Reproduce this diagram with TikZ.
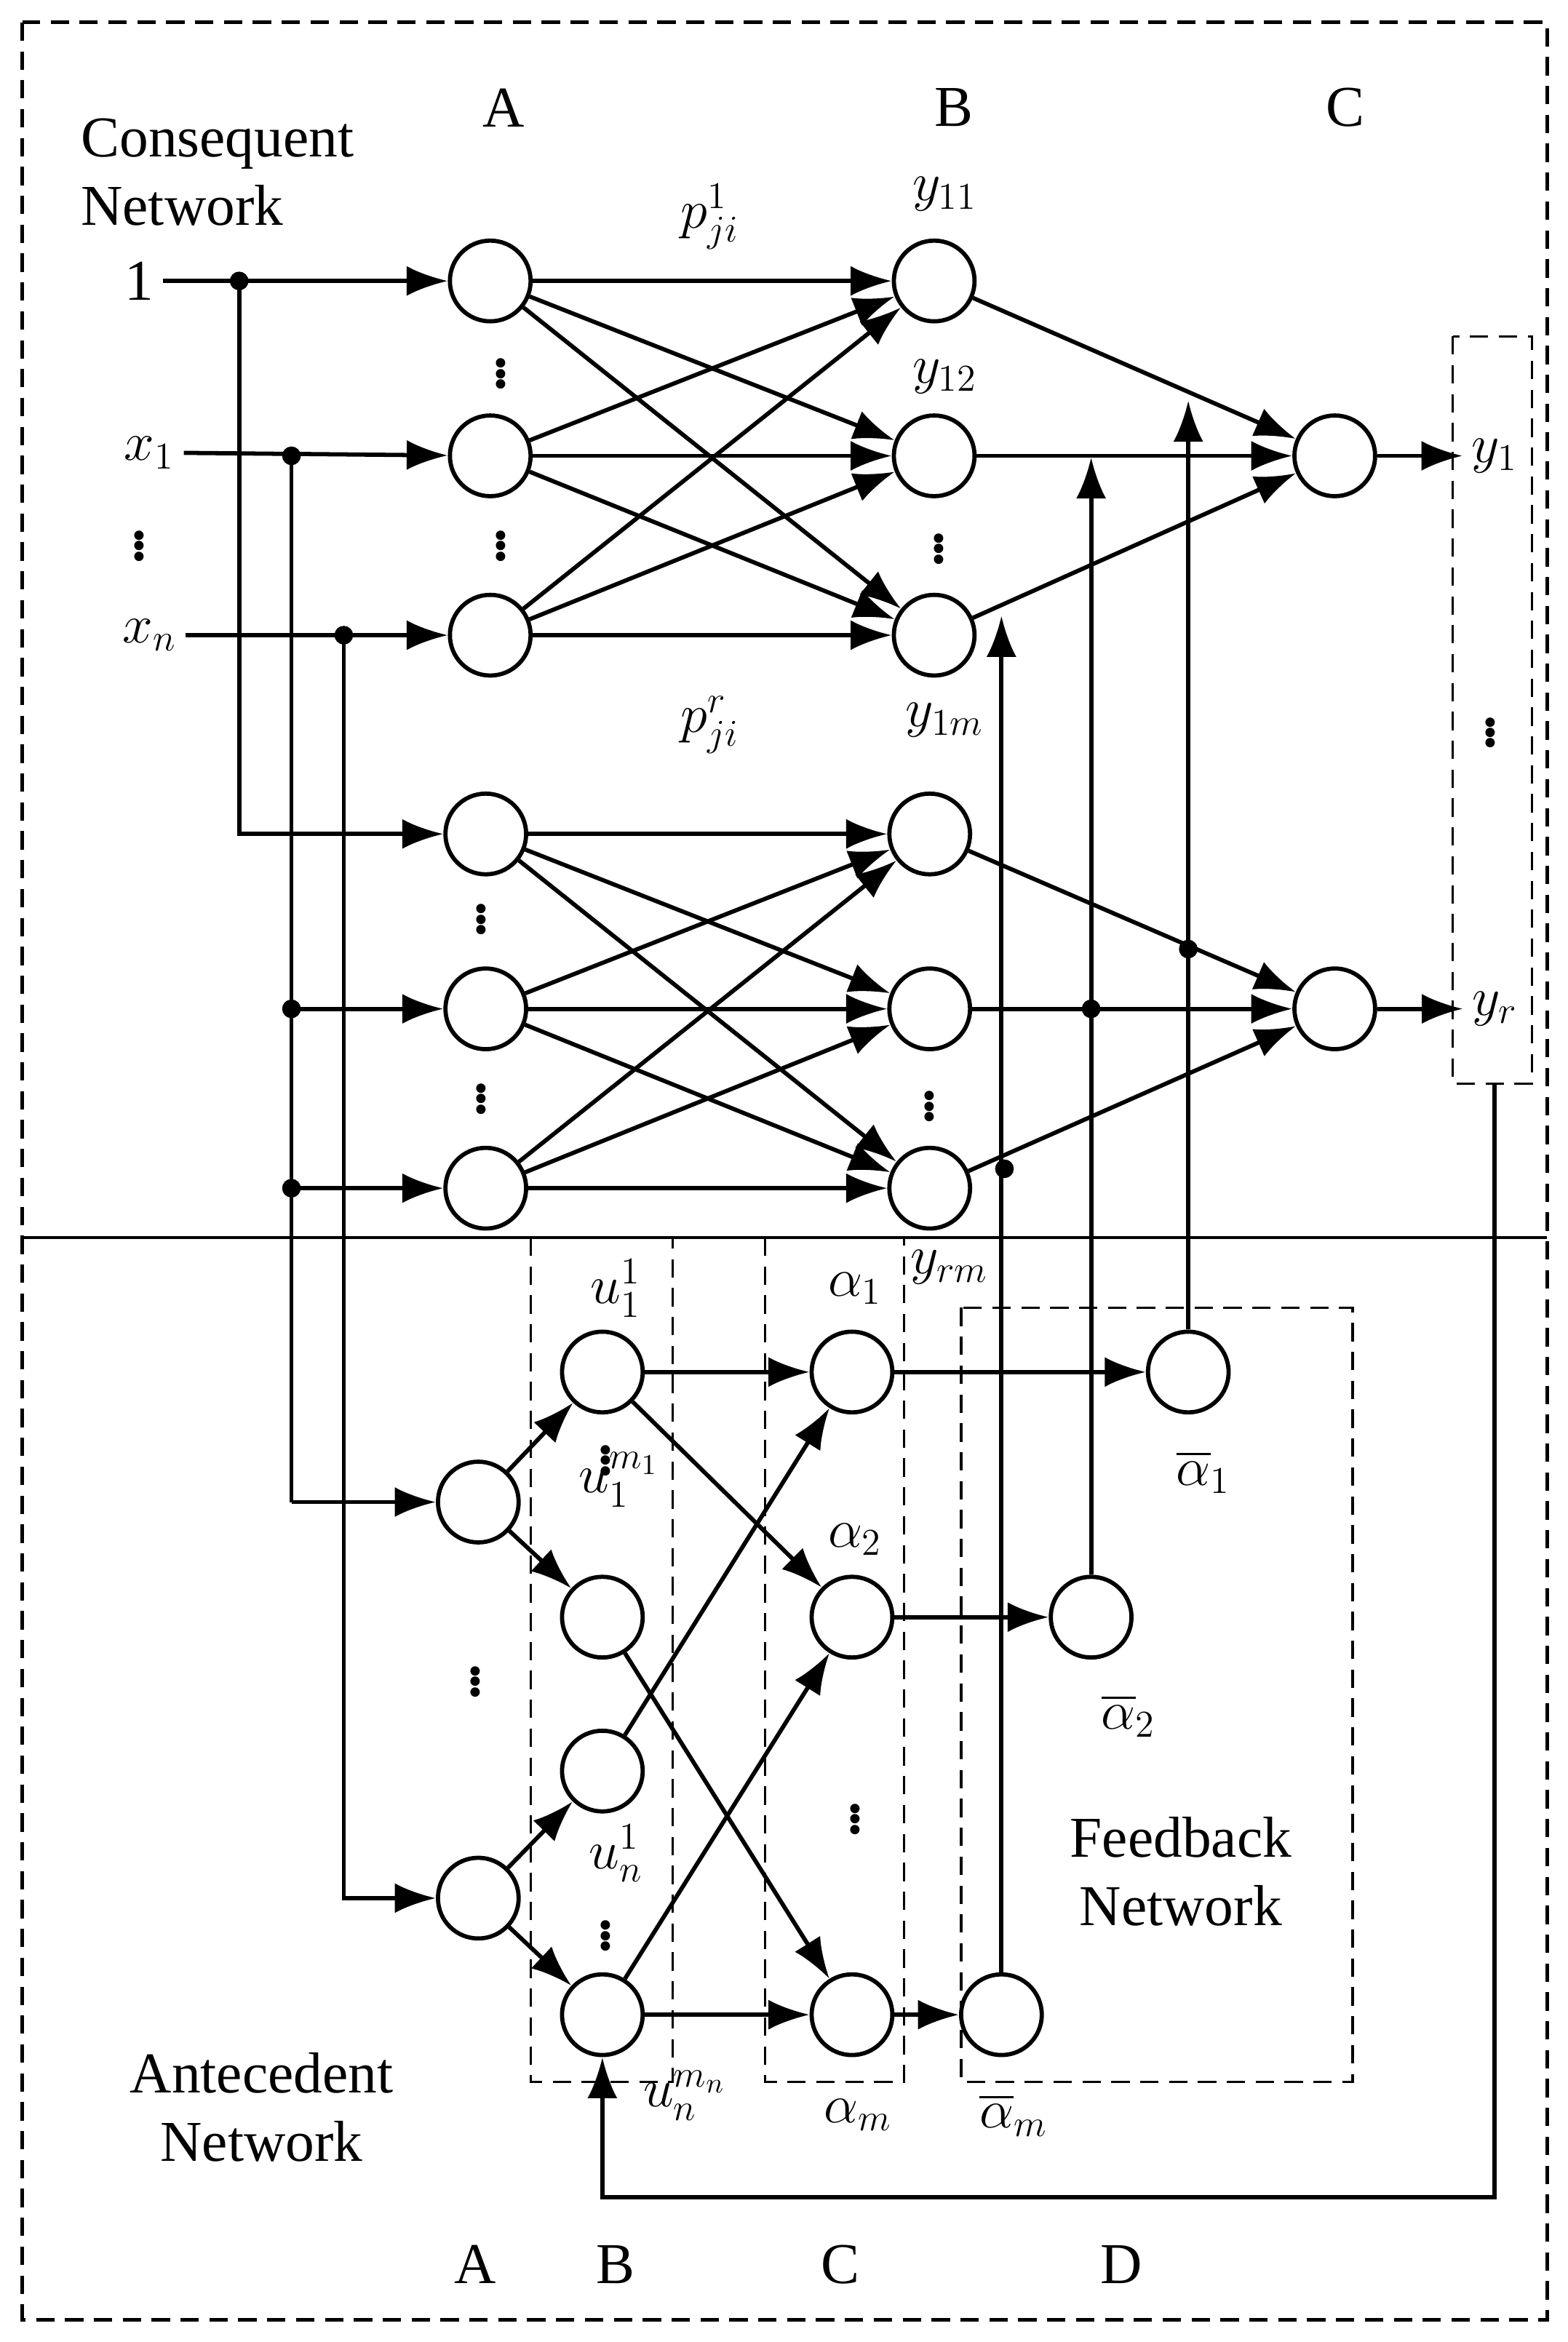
\documentclass[tikz,border=0pt]{standalone}
\usepackage{amsmath}
\usepackage{fontspec}
\setmainfont{Liberation Serif}
\usetikzlibrary{arrows.meta, calc}
\tikzset{
  neuron/.style={draw, circle, line width=1.6pt, minimum size=1.08cm, inner sep=0pt},
  conn/.style={line width=1.6pt, -{Latex[length=0.55cm,width=0.4cm]}},
  wire/.style={line width=1.6pt},
  box/.style={dash pattern=on 7pt off 4pt, line width=0.9pt},
  lbl/.style={font=\fontsize{22}{26}\selectfont},
  vd/.style={font=\fontsize{22}{26}\selectfont\bfseries},
  jdot/.style={fill=black, circle, inner sep=0pt, minimum size=0.25cm}
}
\newcommand{\vd}{\textbf{$\boldsymbol{\vdots}$}}
\begin{document}
\begin{tikzpicture}[x=0.02cm,y=-0.02cm]
\useasboundingbox (0,0) rectangle (1049,1567);
% frames
\draw[box, line width=1.3pt] (15,15) rectangle (1035,1552);
\draw[line width=1.2pt] (15,828) -- (1035,828);
\node[lbl] at (337,72) {A};
\node[lbl] at (638,72) {B};
\node[lbl] at (900,72) {C};
\node[lbl, align=left, anchor=west] at (48,115) {Consequent\\Network};

% inputs
\node[lbl] (one) at (93,188) {1};
\node[lbl] (x1) at (100,303) {$x_1$};
\node[vd] at (93,360) {\vd};
\node[lbl] (xn) at (100,425) {$x_n$};

% consequent layers
\foreach \i/\y in {1/188,2/305,3/425} {
  \node[neuron] (ta\i) at (328,\y) {};
  \node[neuron] (tb\i) at (625,\y) {};
}
\foreach \i/\y in {1/558,2/675,3/795} {
  \node[neuron] (ba\i) at (325,\y) {};
  \node[neuron] (bb\i) at (622,\y) {};
}
\node[neuron] (c1) at (893,305) {};
\node[neuron] (c2) at (893,675) {};
\foreach \y in {245,360} \node[vd] at (335,\y) {\vd};
\foreach \y in {610,730} \node[vd] at (322,\y) {\vd};
\node[vd] at (628,362) {\vd};
\node[vd] at (622,735) {\vd};
\node[lbl] at (632,130) {$y_{11}$};
\node[lbl] at (632,252) {$y_{12}$};
\node[lbl] at (632,482) {$y_{1m}$};
\node[lbl] at (635,848) {$y_{rm}$};
\node[lbl] at (475,145) {$p_{ji}^{1}$};
\node[lbl] at (475,485) {$p_{ji}^{r}$};

% outputs
\node[lbl] (y1) at (1000,305) {$y_1$};
\node[lbl] (yr) at (1000,675) {$y_r$};
\node[vd] at (997,485) {\vd};
\draw[box] (972,225) rectangle (1025,725);
\draw[conn] (c1) -- (y1.west);
\draw[conn] (c2) -- (yr.west);

% input wiring
\coordinate (j1) at (160,188);
\coordinate (j2) at (195,305);
\coordinate (j3) at (230,425);
\draw[conn] (one.east) -- (ta1);
\draw[conn] (x1.east) -- (ta2);
\draw[conn] (xn.east) -- (ta3);
\draw[conn] (j1) |- (ba1);
\draw[wire] (j2) -- (195,1005);
\draw[conn] (195,675) -- (ba2);
\draw[conn] (195,795) -- (ba3);
\node[jdot] at (j1) {}; \node[jdot] at (j2) {}; \node[jdot] at (j3) {};
\node[jdot] at (195,675) {}; \node[jdot] at (195,795) {};

% full connections
\foreach \i in {1,2,3} \foreach \j in {1,2,3} {
  \draw[conn] (ta\i) -- (tb\j);
  \draw[conn] (ba\i) -- (bb\j);
}
\foreach \i in {1,2,3} {
  \draw[conn] (tb\i) -- (c1);
  \draw[conn] (bb\i) -- (c2);
}

% antecedent network
\node[neuron] (aa1) at (320,1005) {};
\node[neuron] (aa2) at (320,1270) {};
\node[vd] at (318,1120) {\vd};
\node[neuron] (u11) at (403,918) {};
\node[neuron] (u1m) at (403,1082) {};
\node[neuron] (un1) at (403,1185) {};
\node[neuron] (unm) at (403,1348) {};
\node[neuron] (al1) at (570,918) {};
\node[neuron] (al2) at (570,1082) {};
\node[neuron] (alm) at (570,1348) {};
\node[neuron] (ab1) at (795,918) {};
\node[neuron] (ab2) at (730,1082) {};
\node[neuron] (abm) at (670,1348) {};
\node[lbl] at (412,862) {$u_1^{1}$};
\node[vd] at (405,972) {\vd};
\node[lbl] at (414,990) {$u_1^{m_1}$};
\node[lbl] at (412,1240) {$u_n^{1}$};
\node[vd] at (405,1290) {\vd};
\node[lbl] at (458,1402) {$u_n^{m_n}$};
\node[lbl] at (572,862) {$\alpha_1$};
\node[lbl] at (572,1030) {$\alpha_2$};
\node[vd] at (572,1212) {\vd};
\node[lbl] at (574,1415) {$\alpha_m$};
\node[lbl] at (805,985) {$\overline{\alpha}_1$};
\node[lbl] at (755,1148) {$\overline{\alpha}_2$};
\node[lbl] at (678,1415) {$\overline{\alpha}_m$};
\draw[box] (355,828) rectangle (450,1393);
\draw[box] (512,828) rectangle (605,1393);
\draw[box] (643,875) rectangle (905,1393);
\node[lbl, align=center] at (790,1252) {Feedback\\Network};
\node[lbl, align=center] at (175,1410) {Antecedent\\Network};
\node[lbl] at (318,1515) {A};
\node[lbl] at (412,1515) {B};
\node[lbl] at (562,1515) {C};
\node[lbl] at (750,1515) {D};

\draw[conn] (195,1005) -- (aa1);
\draw[conn] (j3) |- (aa2);
\draw[conn] (aa1) -- (u11);
\draw[conn] (aa1) -- (u1m);
\draw[conn] (aa2) -- (un1);
\draw[conn] (aa2) -- (unm);
\draw[conn] (u11) -- (al1);
\draw[conn] (u11) -- (al2);
\draw[conn] (u1m) -- (alm);
\draw[conn] (un1) -- (al1);
\draw[conn] (unm) -- (al2);
\draw[conn] (unm) -- (alm);
\draw[conn] (al1) -- (ab1);
\draw[conn] (al2) -- (ab2);
\draw[conn] (alm) -- (abm);

% feedback to consequent outputs
\coordinate (f1) at (795,268);
\coordinate (f2) at (730,306);
\coordinate (f3) at (670,412);
\draw[conn] (ab1) -- (f1);
\draw[conn] (ab2) -- (f2);
\draw[conn] (abm) -- (f3);
\node[jdot] at (795,635) {};
\node[jdot] at (730,675) {};
\node[jdot] at (672,782) {};

% output feedback loop
\draw[conn] (1000,725) -- (1000,1470) -- (403,1470) -- (unm);
\end{tikzpicture}
\end{document}
